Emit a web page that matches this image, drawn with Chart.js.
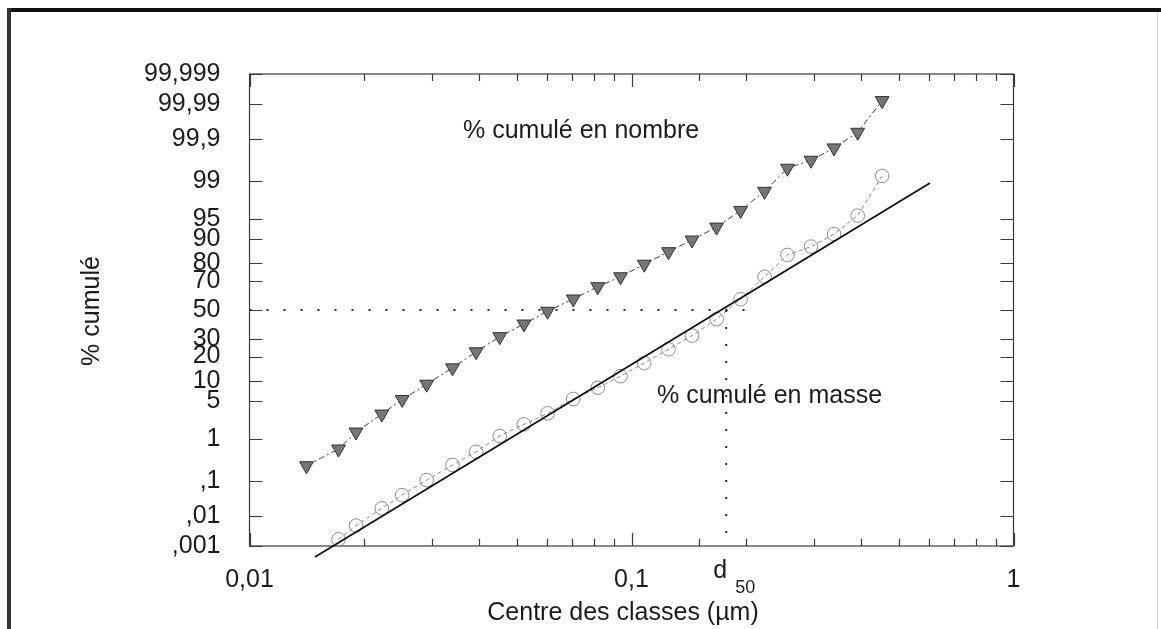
<!DOCTYPE html>
<html>
<head>
<meta charset="utf-8">
<script src="https://cdn.jsdelivr.net/npm/chart.js@4/dist/chart.umd.min.js"></script>
<style>
  html, body { margin: 0; padding: 0; background: #fff; }
  #wrap { width: 1161px; height: 629px; }
</style>
</head>
<body>
<div id="wrap"><canvas id="chart" width="1161" height="629"></canvas></div>
<script>
/* global Chart */

// ─────────────────────────────────────────────
// DATA
// ─────────────────────────────────────────────
// class centres, µm
const SIZES = [0.0141, 0.0171, 0.0190, 0.0222, 0.0251, 0.0291, 0.0340, 0.0392, 0.0452,
               0.0523, 0.0603, 0.0704, 0.0816, 0.0936, 0.108, 0.125, 0.144, 0.167,
               0.193, 0.223, 0.256, 0.295, 0.339, 0.391, 0.453];

// cumulative % by number (triangles)
const PCT_NOMBRE = [0.245, 0.60, 1.37, 3.0, 5.3, 9.0, 14.8, 22.5, 31.5, 40.0, 49.1, 57.9,
                    66.3, 72.6, 79.6, 85.4, 89.7, 93.3, 96.4, 98.4, 99.48, 99.66, 99.83,
                    99.934, 99.9923];

// cumulative % by mass (circles) — nothing visible for the first class
const PCT_MASSE = [null, 0.0017, 0.0049, 0.0169, 0.041, 0.106, 0.255, 0.52, 1.14, 1.94,
                   3.1, 5.4, 8.0, 11.6, 16.9, 23.9, 32.2, 43.5, 57.7, 72.6, 84.0, 87.4,
                   91.5, 95.6, 99.23];

// straight log-normal fit on the mass curve (end points)
const FIT_X = [0.01484, 0.6046];
const FIT_Y = [0.0004, 98.91];

// median diameter and the guide lines
const D50 = 0.177;
const D50_GUIDE_END = 0.207;

const Y_TICKS = [0.001, 0.01, 0.1, 1, 5, 10, 20, 30, 50, 70, 80, 90, 95, 99, 99.9, 99.99, 99.999];
const X_DECADES = [0.01, 0.1, 1];
const X_LABELS  = ['0,01', '0,1', '1'];

// ─────────────────────────────────────────────
// PROBABILITY (probit) SCALE
// ─────────────────────────────────────────────
function probit(p) {
  // Acklam's inverse normal CDF
  const a = [-3.969683028665376e+01, 2.209460984245205e+02, -2.759285104469687e+02,
             1.383577518672690e+02, -3.066479806614716e+01, 2.506628277459239e+00];
  const b = [-5.447609879822406e+01, 1.615858368580409e+02, -1.556989798598866e+02,
             6.680131188771972e+01, -1.328068155288572e+01];
  const c = [-7.784894002430293e-03, -3.223964580411365e-01, -2.400758277161838e+00,
             -2.549732539343734e+00, 4.374664141464968e+00, 2.938163982698783e+00];
  const d = [7.784695709041462e-03, 3.224671290700398e-01, 2.445134137142996e+00,
             3.754408661907416e+00];
  const pl = 0.02425;
  if (p < pl) {
    const q = Math.sqrt(-2 * Math.log(p));
    return (((((c[0]*q+c[1])*q+c[2])*q+c[3])*q+c[4])*q+c[5]) / ((((d[0]*q+d[1])*q+d[2])*q+d[3])*q+1);
  }
  if (p > 1 - pl) {
    const q = Math.sqrt(-2 * Math.log(1 - p));
    return -(((((c[0]*q+c[1])*q+c[2])*q+c[3])*q+c[4])*q+c[5]) / ((((d[0]*q+d[1])*q+d[2])*q+d[3])*q+1);
  }
  const q = p - 0.5, r = q * q;
  return (((((a[0]*r+a[1])*r+a[2])*r+a[3])*r+a[4])*r+a[5])*q /
         (((((b[0]*r+b[1])*r+b[2])*r+b[3])*r+b[4])*r+1);
}

function normCdf(z) {
  const t = 1 / (1 + 0.2316419 * Math.abs(z));
  const poly = t * (0.319381530 + t * (-0.356563782 + t * (1.781477937 + t * (-1.821255978 + t * 1.330274429))));
  const tail = Math.exp(-z * z / 2) / Math.sqrt(2 * Math.PI) * poly;
  return z >= 0 ? 1 - tail : tail;
}

class ProbitScale extends Chart.Scale {
  static id = 'probit';
  static defaults = {};

  determineDataLimits() {
    this.min = this.options.min;
    this.max = this.options.max;
  }
  buildTicks() {
    return Y_TICKS.map(v => ({ value: v }));
  }
  configure() {
    super.configure();
    this._zMin = probit(this.min / 100);
    this._zMax = probit(this.max / 100);
  }
  getPixelForValue(value) {
    const z = probit(value / 100);
    return this.getPixelForDecimal((z - this._zMin) / (this._zMax - this._zMin));
  }
  getValueForPixel(pixel) {
    const z = this._zMin + this.getDecimalForPixel(pixel) * (this._zMax - this._zMin);
    return normCdf(z) * 100;
  }
  getLabelForValue(value) {
    return String(value);
  }
}
Chart.register(ProbitScale);

// ─────────────────────────────────────────────
// HELPERS
// ─────────────────────────────────────────────
const FONT = '"Liberation Sans", Arial, sans-serif';
const INK  = '#1c1c1c';

function isDecade(v) {
  const l = Math.log10(v);
  return Math.abs(l - Math.round(l)) < 1e-6;
}

function pctLabel(v) {
  return String(v).replace('.', ',').replace(/^0,/, ',');
}

function pairs(xs, ys) {
  return xs.map((x, i) => ({ x, y: ys[i] })).filter(p => p.y !== null);
}

// ticks inside the frame on all four sides, titles, notes, outer border
const decor = {
  id: 'decor',
  beforeDatasetsDraw(chart) {
    const { ctx, chartArea: a, scales: { x, y } } = chart;
    ctx.save();
    ctx.strokeStyle = '#3a3a3a';
    ctx.lineWidth = 1.2;
    ctx.strokeRect(a.left, a.top, a.right - a.left, a.bottom - a.top);
    ctx.beginPath();
    Y_TICKS.forEach(v => {
      const py = Math.round(y.getPixelForValue(v)) + 0.5;
      ctx.moveTo(a.left, py);  ctx.lineTo(a.left + 13, py);
      ctx.moveTo(a.right, py); ctx.lineTo(a.right - 13, py);
    });
    x.ticks.forEach(t => {
      const px = Math.round(x.getPixelForValue(t.value)) + 0.5;
      const len = isDecade(t.value) ? 13 : 7;
      ctx.moveTo(px, a.bottom); ctx.lineTo(px, a.bottom - len);
      ctx.moveTo(px, a.top);    ctx.lineTo(px, a.top + len);
    });
    ctx.stroke();
    ctx.restore();
  },
  afterDraw(chart) {
    const { ctx, scales: { x } } = chart;
    ctx.save();
    ctx.fillStyle = INK;
    ctx.textBaseline = 'alphabetic';

    ctx.font = `25px ${FONT}`;
    ctx.textAlign = 'left';
    ctx.fillText('% cumulé en nombre', 463, 138);
    ctx.fillText('% cumulé en masse', 657, 403);

    ctx.textAlign = 'center';
    ctx.fillText('Centre des classes (µm)', 623, 620);

    ctx.save();
    ctx.translate(99, 311);
    ctx.rotate(-Math.PI / 2);
    ctx.fillText('% cumulé', 0, 0);
    ctx.restore();

    // d50 under the axis
    const pd = x.getPixelForValue(D50);
    ctx.textAlign = 'left';
    ctx.font = `25px ${FONT}`;
    ctx.fillText('d', pd - 13, 578);
    ctx.font = `18px ${FONT}`;
    ctx.fillText('50', pd + 9, 593);

    // outer scan frame
    ctx.fillStyle = '#111';
    ctx.fillRect(7, 8, 1154, 4);
    ctx.fillStyle = '#333';
    ctx.fillRect(7, 8, 4, 621);
    ctx.fillStyle = '#d8d8d8';
    ctx.fillRect(1157, 12, 1, 617);
    ctx.restore();
  }
};

// ─────────────────────────────────────────────
// CHART
// ─────────────────────────────────────────────
const ctx = document.getElementById('chart').getContext('2d');
new Chart(ctx, {
  type: 'scatter',
  data: {
    datasets: [
      {
        label: 'd50 horizontal',
        data: [{ x: X_DECADES[0], y: 50 }, { x: D50_GUIDE_END, y: 50 }],
        showLine: true,
        borderColor: '#2a2a2a',
        borderWidth: 2,
        borderDash: [2, 15],
        pointRadius: 0
      },
      {
        label: 'd50 vertical',
        data: [{ x: D50, y: 50 }, { x: D50, y: Y_TICKS[0] }],
        showLine: true,
        borderColor: '#2a2a2a',
        borderWidth: 2,
        borderDash: [2, 15],
        pointRadius: 0
      },
      {
        label: 'ajustement',
        data: pairs(FIT_X, FIT_Y),
        showLine: true,
        borderColor: '#111',
        borderWidth: 1.8,
        pointRadius: 0,
        clip: false
      },
      {
        label: '% cumulé en masse',
        data: pairs(SIZES, PCT_MASSE),
        showLine: true,
        borderColor: '#8a8a8a',
        borderWidth: 1,
        borderDash: [4, 3],
        pointStyle: 'circle',
        pointRadius: 6.8,
        pointBorderWidth: 1,
        pointBorderColor: '#8a8a8a',
        pointBackgroundColor: 'rgba(255,255,255,0)'
      },
      {
        label: '% cumulé en nombre',
        data: pairs(SIZES, PCT_NOMBRE),
        showLine: true,
        borderColor: '#3c3c3c',
        borderWidth: 1,
        borderDash: [6, 3, 2, 3],
        pointStyle: 'triangle',
        rotation: 180,
        pointRadius: 8,
        pointBorderWidth: 1,
        pointBorderColor: '#333',
        pointBackgroundColor: '#767676'
      }
    ]
  },
  options: {
    responsive: false,
    animation: false,
    events: [],
    layout: { padding: { left: 0, top: 74, right: 147.5, bottom: 0 } },
    plugins: {
      legend: { display: false },
      tooltip: { enabled: false }
    },
    scales: {
      x: {
        type: 'logarithmic',
        min: 0.01,
        max: 1,
        grid: { display: false, drawTicks: false },
        border: { display: false },
        ticks: {
          autoSkip: false,
          maxRotation: 0,
          padding: 19,
          color: INK,
          font: { family: FONT, size: 25 },
          callback: v => {
            const i = X_DECADES.findIndex(d => Math.abs(d - v) / d < 1e-6);
            return i >= 0 ? X_LABELS[i] : '';
          }
        },
        afterFit: s => { s.height = 83; }
      },
      y: {
        type: 'probit',
        position: 'left',
        min: Y_TICKS[0],
        max: Y_TICKS[Y_TICKS.length - 1],
        grid: { display: false, drawTicks: false },
        border: { display: false },
        ticks: {
          autoSkip: false,
          padding: 29,
          color: INK,
          font: { family: FONT, size: 25 },
          callback: v => pctLabel(v)
        },
        afterFit: s => { s.width = 249.5; }
      }
    }
  },
  plugins: [decor]
});
</script>
</body>
</html>
